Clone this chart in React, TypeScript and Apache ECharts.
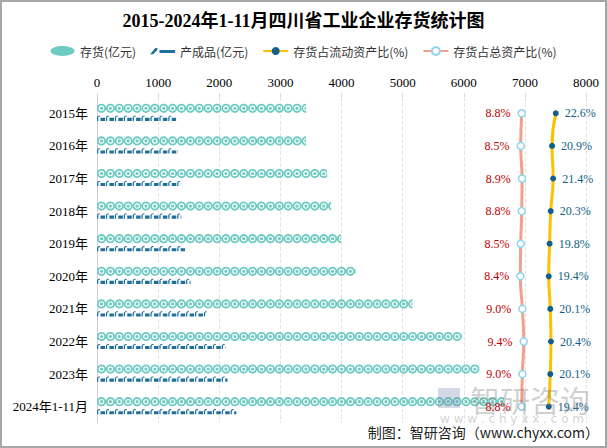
import React, { useEffect, useRef } from "react";
import * as echarts from "echarts";

const categories = ["2015年", "2016年", "2017年", "2018年", "2019年", "2020年", "2021年", "2022年", "2023年", "2024年1-11月"];
const inventory = [3420, 3420, 3765, 3830, 3990, 4230, 5160, 5975, 6255, 6660];
const finishedGoods = [1300, 1315, 1365, 1380, 1440, 1530, 1795, 2100, 2135, 2280];
const ratioCurrent = [22.6, 20.9, 21.4, 20.3, 19.8, 19.4, 20.1, 20.4, 20.1, 19.4];
const ratioTotal = [8.8, 8.5, 8.9, 8.8, 8.5, 8.4, 9.0, 9.4, 9.0, 8.8];
const xTicks = { min: 0, max: 8000, interval: 1000 };

const seriesNames = ["存货(亿元)", "产成品(亿元)", "存货占流动资产比(%)", "存货占总资产比(%)"];

const INV_PATH =
  "path://M10,0 A10,10 0 1,1 10,20 A10,10 0 1,1 10,0 Z M10,4 A6,6 0 1,0 10,16 A6,6 0 1,0 10,4 Z M10,6.5 A3.5,3.5 0 1,1 10,13.5 A3.5,3.5 0 1,1 10,6.5 Z";
const FG_PATH = "path://M0,10 L0,3 L3,0 L6,0 L6,2 L3.5,2 L2.5,3 L2.5,10 Z M7,4 L16,4 L16,10 L7,10 Z";
const INV_LEGEND = "path://M0,5 A12,5 0 1,1 24,5 A12,5 0 1,1 0,5 Z";
const FG_LEGEND = "path://M0,7 L5,1 L7,1 L7,3 L3,7 Z M9,3 L24,3 L24,6 L9,6 Z";

const SERIF = "'Liberation Serif', 'Noto Sans CJK SC', serif";

export default function App() {
  const ref = useRef<HTMLDivElement>(null);
  useEffect(() => {
    if (!ref.current) return;
    const chart = echarts.init(ref.current, undefined, { renderer: "svg" });
    const option: any = {
      animation: false,
      backgroundColor: "#fff",
      title: {
        text: "2015-2024年1-11月四川省工业企业存货统计图",
        left: "center",
        top: 7,
        textStyle: { fontSize: 18, fontWeight: "bold", color: "#000", fontFamily: SERIF },
      },
      legend: {
        top: 40,
        left: "center",
        itemGap: 14,
        itemWidth: 25,
        itemHeight: 10,
        textStyle: { fontSize: 12, color: "#333", fontFamily: "'Noto Sans CJK SC', sans-serif" },
        data: [
          { name: seriesNames[0], icon: INV_LEGEND },
          { name: seriesNames[1], icon: FG_LEGEND },
          { name: seriesNames[2] },
          { name: seriesNames[3] },
        ],
      },
      grid: { left: 97, right: 21, top: 97, bottom: 25 },
      xAxis: [
        {
          type: "value",
          position: "top",
          min: xTicks.min,
          max: xTicks.max,
          interval: xTicks.interval,
          axisLine: { show: false },
          axisTick: { show: true, length: 4, lineStyle: { color: "#d9d9d9" } },
          axisLabel: {
            fontSize: 13,
            color: "#000",
            margin: 8,
            fontFamily: SERIF,
            formatter: (v: number) => String(v),
          },
          splitLine: { show: true, lineStyle: { color: "#e4e4e4", type: "dashed" } },
        },
        { type: "value", min: -118.7, max: 28.1, show: false },
        { type: "value", min: -186.8, max: 36.4, show: false },
      ],
      yAxis: {
        type: "category",
        data: categories,
        inverse: true,
        axisLine: { show: true, lineStyle: { color: "#cfcfcf" } },
        axisTick: { show: false },
        axisLabel: { fontSize: 13, color: "#000", margin: 9, fontFamily: SERIF },
      },
      series: [
        {
          type: "pictorialBar",
          name: seriesNames[0],
          data: inventory,
          symbol: INV_PATH,
          symbolSize: [9, 9],
          symbolRepeat: true,
          symbolClip: true,
          symbolBoundingData: xTicks.max,
          symbolMargin: 0,
          symbolOffset: [0, -5],
          itemStyle: { color: "#6ecbc2" },
          z: 3,
        },
        {
          type: "pictorialBar",
          name: seriesNames[1],
          data: finishedGoods,
          symbol: FG_PATH,
          symbolSize: [8, 5],
          symbolRepeat: true,
          symbolClip: true,
          symbolBoundingData: xTicks.max,
          symbolMargin: 0.5,
          symbolOffset: [0, 5],
          itemStyle: { color: "#1d6f9c" },
          z: 3,
        },
        {
          type: "line",
          name: seriesNames[2],
          data: ratioCurrent,
          xAxisIndex: 2,
          smooth: true,
          symbol: "circle",
          symbolSize: 6,
          lineStyle: { color: "#ffc000", width: 3 },
          itemStyle: { color: "#135f88" },
          label: {
            show: true,
            position: "right",
            distance: 6,
            color: "#135f88",
            fontSize: 12,
            fontFamily: SERIF,
            formatter: (p: any) => Number(p.value).toFixed(1) + "%",
          },
          z: 5,
        },
        {
          type: "line",
          name: seriesNames[3],
          data: ratioTotal,
          xAxisIndex: 1,
          smooth: true,
          symbol: "circle",
          symbolSize: 7,
          lineStyle: { color: "#f2a08b", width: 3 },
          itemStyle: { color: "#ffffff", borderColor: "#8fd4ef", borderWidth: 1.5 },
          label: {
            show: true,
            position: "left",
            distance: 7,
            color: "#c00000",
            fontSize: 12,
            fontFamily: SERIF,
            formatter: (p: any) => Number(p.value).toFixed(1) + "%",
          },
          z: 5,
        },
      ],
      graphic: [
        {
          type: "rect",
          shape: { x: 1, y: 1, width: 605, height: 446 },
          style: { fill: "none", stroke: "#a6a6a6", lineWidth: 2 },
          silent: true,
          z: 100,
        },
        {
          type: "rect",
          shape: { x: 438, y: 388, width: 22, height: 20 },
          style: { fill: "rgba(110,130,170,0.3)" },
          silent: true,
          z: 100,
        },
        {
          type: "text",
          x: 470,
          y: 384,
          style: {
            text: "智研咨询",
            fontSize: 30,
            fill: "rgba(120,120,120,0.35)",
            fontFamily: "'Noto Sans CJK SC', sans-serif",
          },
          silent: true,
          z: 100,
        },
        {
          type: "text",
          x: 440,
          y: 413,
          style: {
            text: "w w w . c h y x x . c o m",
            fontSize: 12,
            fill: "rgba(120,120,120,0.35)",
            fontFamily: "'DejaVu Sans', sans-serif",
          },
          silent: true,
          z: 100,
        },
        {
          type: "text",
          right: 8,
          y: 425,
          style: {
            text: "制图：智研咨询（www.chyxx.com）",
            fontSize: 14,
            fill: "#222",
            fontFamily: "'Noto Sans CJK SC', sans-serif",
          },
          silent: true,
          z: 100,
        },
      ],
    };
    chart.setOption(option);
    return () => chart.dispose();
  }, []);
  return (
    <div
      ref={ref}
      style={{ position: "fixed", left: 0, top: 0, width: 607, height: 448 }}
    />
  );
}
